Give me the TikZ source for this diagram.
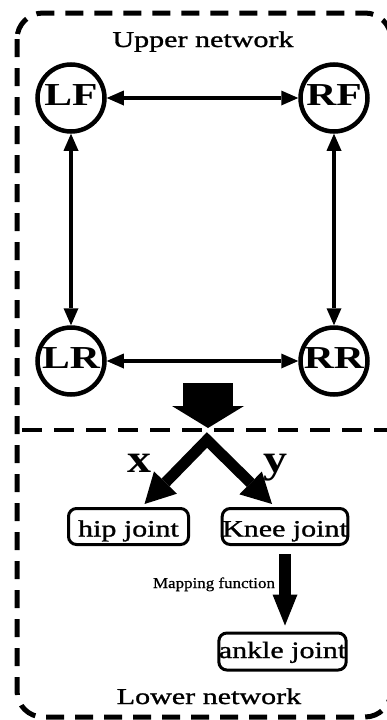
\documentclass[tikz,border=0pt]{standalone}
\usepackage{fontspec}
\setmainfont{Liberation Serif}
\newfontfamily\netfont[FakeStretch=1.33,FakeBold=1.2]{Liberation Serif}
\newfontfamily\legfont[FakeStretch=1.3]{Liberation Serif}
\newfontfamily\jointfont[FakeStretch=1.28,FakeBold=1.2]{Liberation Serif}
\newfontfamily\axisfont[FakeStretch=1.2]{Liberation Serif}
\newfontfamily\mapfont[FakeStretch=1.13,FakeBold=0.8]{Liberation Serif}
\usetikzlibrary{arrows.meta,calc}

\begin{document}
\begin{tikzpicture}[x=1pt,y=-1pt,
  leg/.style={circle,draw,line width=4.5pt,minimum size=67pt,inner sep=0pt,
    font=\legfont\fontsize{32}{32}\selectfont\bfseries,
    text height=21pt,text depth=6pt},
  joint/.style={draw,rounded corners=8pt,line width=3pt,minimum height=36pt,
    inner sep=0pt,font=\jointfont\fontsize{23.4}{24}\selectfont},
  netlabel/.style={anchor=base,inner sep=0pt,
    font=\netfont\fontsize{22.6}{23}\selectfont},
  axislabel/.style={anchor=base,inner sep=0pt,
    font=\axisfont\fontsize{40}{40}\selectfont\bfseries},
  link/.style={line width=4pt,
    {Triangle[width=15pt,length=17pt,line width=0pt]}-{Triangle[width=15pt,length=17pt,line width=0pt]}},
  bigarrow/.style={line width=50pt,
    -{Triangle[width=72pt,length=22pt,line width=0pt]}},
  fork/.style={line width=11pt,line join=miter,
    {Triangle[width=32pt,length=30pt,line width=0pt]}-{Triangle[width=32pt,length=30pt,line width=0pt]}},
  maparrow/.style={line width=12pt,
    -{Triangle[width=25pt,length=31pt,line width=0pt]}},
  frame/.style={line width=5pt,dash pattern=on 18pt off 11pt,rounded corners=26pt},
  divider/.style={line width=4pt,dash pattern=on 20pt off 12pt}
]
\useasboundingbox (0,0) rectangle (387,720);

% outer dashed frame and the divider between the two networks
\draw[frame] (17,13) rectangle (391,717);
\draw[divider] (22,430) -- (388,430);

% upper network: the four legs
\node[netlabel] (upper) at (203,47) {Upper network};
\node[leg] (LF) at (71,98) {LF};
\node[leg] (RF) at (334,98) {RF};
\node[leg] (LR) at (71,361) {LR};
\node[leg] (RR) at (334,361) {RR};

\draw[link] (LF) -- (RF);
\draw[link] (LR) -- (RR);
\draw[link] (LF) -- (LR);
\draw[link] (RF) -- (RR);

% output of the upper network into the lower one
\coordinate (flowTop) at (208,383);
\coordinate (flowEnd) at (208,428);
\coordinate (split) at (207,440);
\draw[bigarrow] (flowTop) -- (flowEnd);

% lower network: the joints
\node[joint,minimum width=120pt,text height=25pt,text depth=5pt] (hip) at (128.5,526.5) {hip joint};
\node[joint,minimum width=123pt,text height=25pt,text depth=5pt] (knee) at (285,526.5) {Knee joint};
\node[joint,minimum width=126pt,minimum height=37pt,text height=18pt,text depth=5pt] (ankle) at (282.5,651.5) {ankle joint};

\draw[fork] ($(hip.north)+(16,-3)$) -- (split) -- ($(knee.north)+(-13,-3)$);
\node[axislabel] (xlab) at (139.5,472) {x};
\node[axislabel] (ylab) at (275,472) {y};

\draw[maparrow] ($(knee.south)+(0,8)$) -- ($(knee.south |- ankle.north)+(0,-6)$);
\node[anchor=base,inner sep=0pt,font=\mapfont\fontsize{15}{15}\selectfont] (map) at (214,588) {Mapping function};

\node[netlabel] (lower) at (209,704) {Lower network};
\end{tikzpicture}
\end{document}
